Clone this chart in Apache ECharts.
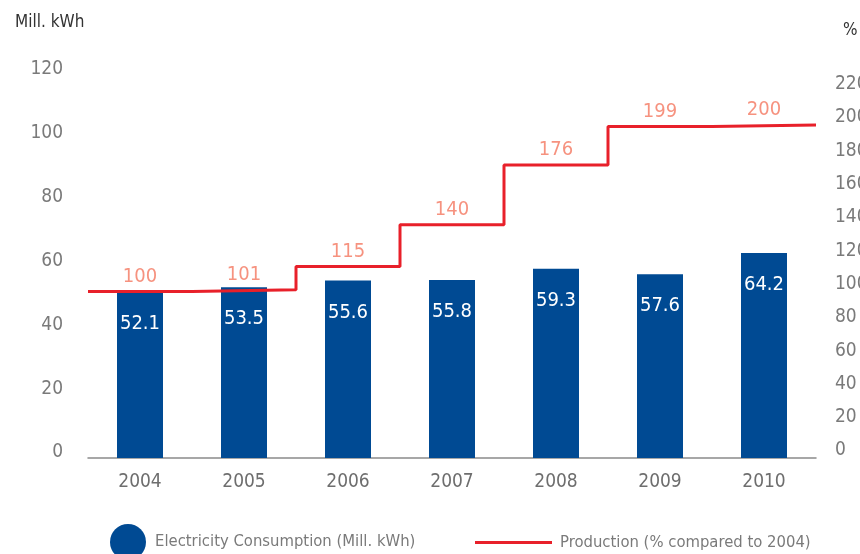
<!DOCTYPE html>
<html>
<head>
<meta charset="utf-8">
<script src="https://cdn.jsdelivr.net/npm/echarts@6/dist/echarts.min.js"></script>
<style>
  html, body { margin: 0; padding: 0; background: #fff; }
  #chart { width: 860px; height: 554px; }
</style>
</head>
<body>
<div id="chart"></div>
<script>
// Electricity consumption vs. production index, 2004–2010
const years = ['2004', '2005', '2006', '2007', '2008', '2009', '2010'];
const consumption = [52.1, 53.5, 55.6, 55.8, 59.3, 57.6, 64.2];   // Mill. kWh
const production = [100, 101, 115, 140, 176, 199, 200];          // % of 2004
const leftTicks = [0, 20, 40, 60, 80, 100, 120];
const rightTicks = [0, 20, 40, 60, 80, 100, 120, 140, 160, 180, 200, 220];

const FONT = "'Liberation Sans Narrow', 'DejaVu Sans Condensed', 'Roboto', sans-serif";
const BLUE = '#004a93';
const RED = '#e8202a';
const SALMON = '#f4775f';
const GREY = '#7a7a7a';

// Step outline: each year's level spans the full category band
const stepData = production.map((v, i) => [i - 0.5, v]);
stepData.push([years.length - 0.5, production[production.length - 1]]);

const chart = echarts.init(document.getElementById('chart'));
chart.setOption({
  animation: false,
  textStyle: { fontFamily: FONT },
  grid: { left: 88, right: 44, top: 75, bottom: 96, containLabel: false, outerBoundsMode: 'none' },
  graphic: [
    { type: 'text', left: 15, top: 14, style: { text: 'Mill. kWh', fill: '#333', font: "17px " + FONT } },
    { type: 'text', left: 843, top: 22, style: { text: '%', fill: '#333', font: "17px " + FONT } }
  ],
  legend: [
    {
      left: 105, top: 519, itemWidth: 36, itemHeight: 36, itemGap: 0,
      icon: 'circle',
      data: ['Electricity Consumption (Mill. kWh)'],
      textStyle: { fontFamily: FONT, fontSize: 16.5, color: GREY, padding: [0, 0, 0, 4] }
    },
    {
      left: 470, top: 529, itemWidth: 77, itemHeight: 3,
      icon: 'rect',
      data: ['Production (% compared to 2004)'],
      textStyle: { fontFamily: FONT, fontSize: 16.5, color: GREY, padding: [0, 0, 0, 3] }
    }
  ],
  xAxis: [
    {
      type: 'category', data: years, boundaryGap: true,
      axisLine: { lineStyle: { color: '#8a8a8a', width: 1.5 } },
      axisTick: { show: false },
      axisLabel: { color: '#6e6e6e', fontSize: 19, margin: 15, fontFamily: FONT }
    },
    { type: 'value', min: -0.5, max: years.length - 0.5, show: false }
  ],
  yAxis: [
    {
      type: 'value', min: 0, max: 120, interval: 20,
      axisLine: { show: false }, axisTick: { show: false }, splitLine: { show: false },
      axisLabel: { color: GREY, fontSize: 19, margin: 25, fontFamily: FONT,
        verticalAlign: 'bottom', lineHeight: 11,
        formatter: v => leftTicks.includes(v) ? String(v) : '' }
    },
    {
      type: 'value', min: 0, max: 230, interval: 20, position: 'right',
      axisLine: { show: false }, axisTick: { show: false }, splitLine: { show: false },
      axisLabel: { color: GREY, fontSize: 19, margin: 19, fontFamily: FONT,
        verticalAlign: 'bottom', lineHeight: 15,
        showMaxLabel: false,
        formatter: v => rightTicks.includes(v) ? String(v) : '' }
    }
  ],
  series: [
    {
      name: 'Electricity Consumption (Mill. kWh)',
      type: 'bar', data: consumption, barWidth: 46,
      itemStyle: { color: BLUE },
      label: {
        show: true, position: 'insideTop', distance: 22,
        color: '#fff', fontSize: 20, fontFamily: FONT
      }
    },
    {
      name: 'Production (% compared to 2004)',
      type: 'line', xAxisIndex: 1, yAxisIndex: 1,
      data: stepData, step: 'end', symbol: 'none',
      lineStyle: { color: RED, width: 3 },
      itemStyle: { color: RED }
    },
    {
      // value labels centred over each step
      type: 'scatter', yAxisIndex: 1, data: production,
      symbolSize: 0, silent: true,
      label: {
        show: true, position: 'top', distance: 5,
        color: SALMON, fontSize: 20, fontFamily: FONT
      }
    }
  ]
});
</script>
</body>
</html>
